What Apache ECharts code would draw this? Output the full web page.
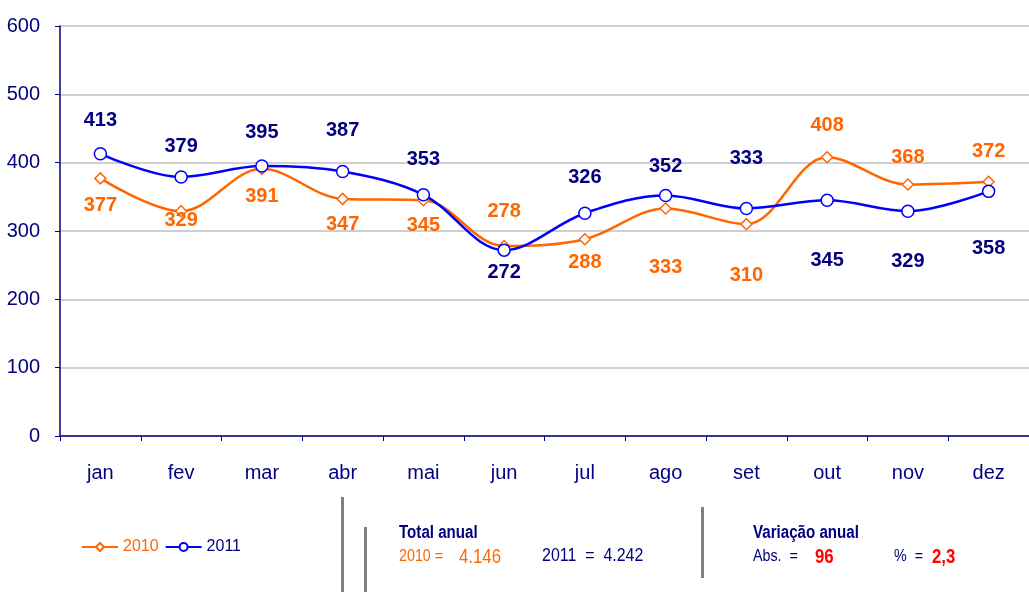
<!DOCTYPE html>
<html>
<head>
<meta charset="utf-8">
<script src="https://cdn.jsdelivr.net/npm/echarts@6/dist/echarts.min.js"></script>
<style>
html,body{margin:0;padding:0;background:#fff;}
#c{width:1029px;height:592px;}
</style>
</head>
<body>
<div id="c"></div>
<script>
const months = ['jan','fev','mar','abr','mai','jun','jul','ago','set','out','nov','dez'];
const s2010 = [377,329,391,347,345,278,288,333,310,408,368,372];
const s2011 = [413,379,395,387,353,272,326,352,333,345,329,358];
const yTicks = [0,100,200,300,400,500,600];
// label vertical offsets (px) relative to point
const off2010 = [27,9,28,26,25,-35,23,59,51,-32,-27,-30];
const off2011 = [-33,-31,-34,-41,-35,22,-36,-29,-50,60,50,57];

const FONT = "'Liberation Sans Narrow','Arial Narrow','Liberation Sans',Arial,sans-serif";
const ORANGE = '#FF6600', BLUE = '#0000FF', NAVY = '#000080';

function mk(vals, offs){
  return vals.map((v,i)=>({value:v, label:{offset:[0, offs[i]]}}));
}
function txt(x, y, s, color, size, bold){
  return {type:'text', x:x, y:y, scaleX:0.84, originX:0, originY:0,
    style:{text:s, fill:color, font:(bold?'bold ':'')+size+'px '+FONT, textVerticalAlign:'middle'}};
}

const chart = echarts.init(document.getElementById('c'));
chart.setOption({
  animation:false,
  grid:{left:60, top:26, width:983, height:410, containLabel:false},
  legend:{
    left:76, top:534, itemGap:6, itemWidth:36, itemHeight:10,
    textStyle:{fontFamily:FONT, fontSize:16},
    data:[{name:'2010', textStyle:{color:ORANGE}},{name:'2011', textStyle:{color:NAVY}}]
  },
  xAxis:{
    type:'category', data:months, boundaryGap:true,
    axisLine:{lineStyle:{color:NAVY, width:1.5}},
    axisTick:{show:true, length:5, lineStyle:{color:NAVY}},
    axisLabel:{color:NAVY, fontFamily:FONT, fontSize:20, margin:27}
  },
  yAxis:{
    type:'value', min:yTicks[0], max:yTicks[yTicks.length-1], interval:100,
    axisLine:{show:true, lineStyle:{color:NAVY, width:1.5}},
    axisTick:{show:true, inside:false, length:5, lineStyle:{color:NAVY}},
    axisLabel:{color:NAVY, fontFamily:FONT, fontSize:20, margin:20},
    splitLine:{lineStyle:{color:'#BFBFBF', width:1.5}}
  },
  series:[
    {
      name:'2010', type:'line', smooth:0.35, data:mk(s2010, off2010),
      symbol:'diamond', symbolSize:11, showAllSymbol:true,
      lineStyle:{color:ORANGE, width:2.5},
      itemStyle:{color:'#fff', borderColor:ORANGE, borderWidth:1.5},
      label:{show:true, position:'inside', color:ORANGE, fontFamily:FONT, fontWeight:'bold', fontSize:20},
      z:2
    },
    {
      name:'2011', type:'line', smooth:0.35, data:mk(s2011, off2011),
      symbol:'circle', symbolSize:12, showAllSymbol:true,
      lineStyle:{color:BLUE, width:2.5},
      itemStyle:{color:'#fff', borderColor:BLUE, borderWidth:1.5},
      label:{show:true, position:'inside', color:NAVY, fontFamily:FONT, fontWeight:'bold', fontSize:20},
      z:3
    }
  ],
  graphic:[
    {type:'rect', shape:{x:341, y:497, width:3, height:95}, style:{fill:'#808080'}},
    {type:'rect', shape:{x:364, y:527, width:3, height:65}, style:{fill:'#808080'}},
    {type:'rect', shape:{x:701, y:507, width:3, height:71}, style:{fill:'#808080'}},
    txt(399, 533, 'Total anual', NAVY, 18, true),
    txt(399, 556, '2010 =', ORANGE, 17, false),
    txt(459, 557, '4.146', ORANGE, 20, false),
    txt(542, 556, '2011  =  4.242', NAVY, 19, false),
    txt(753, 533, 'Variação anual', NAVY, 18, true),
    txt(753, 556, 'Abs.  =', NAVY, 17, false),
    txt(815, 557, '96', '#FF0000', 20, true),
    txt(894, 556, '%  =', NAVY, 17, false),
    txt(932, 557, '2,3', '#FF0000', 20, true)
  ]
});
</script>
</body>
</html>
